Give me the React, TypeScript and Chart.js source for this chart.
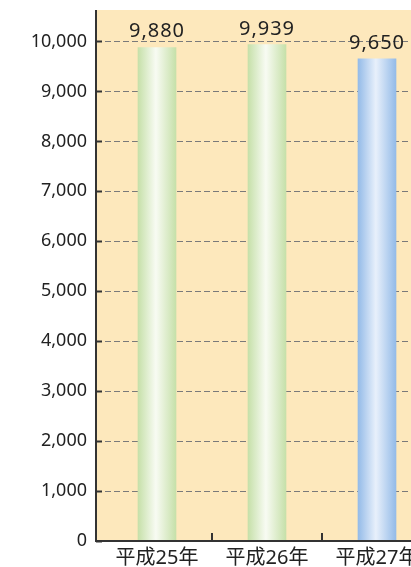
import React, { useEffect, useRef } from "react";
import { Chart, registerables } from "chart.js";

Chart.register(...registerables);

const categories = ["平成25年", "平成26年", "平成27年"];
const values = [9880, 9939, 9650];
const yTicks = [0, 1000, 2000, 3000, 4000, 5000, 6000, 7000, 8000, 9000, 10000];
const yMin = 0;
const yMax = 10630;

const FONT = '"Noto Sans", "Noto Sans CJK JP", sans-serif';
const barColors = [
  ["#c6e0a9", "#f8fbf3"],
  ["#c6e0a9", "#f8fbf3"],
  ["#94bbe8", "#e8f0fb"],
];

const decorPlugin = {
  id: "decor",
  beforeDraw(chart: any) {
    const { ctx, chartArea } = chart;
    ctx.save();
    ctx.fillStyle = "#fde8bc";
    ctx.fillRect(chartArea.left - 6, chartArea.top, chartArea.right - chartArea.left + 6, chartArea.bottom - chartArea.top);
    ctx.restore();
  },
  beforeDatasetsDraw(chart: any) {
    const { ctx, chartArea, scales } = chart;
    const y = scales.y;
    ctx.save();
    ctx.strokeStyle = "#7a7a7a";
    ctx.lineWidth = 1;
    ctx.setLineDash([6, 3]);
    yTicks.forEach((v) => {
      if (v === 0) return;
      const py = Math.round(y.getPixelForValue(v)) + 0.5;
      ctx.beginPath();
      ctx.moveTo(chartArea.left - 6, py);
      ctx.lineTo(chartArea.right, py);
      ctx.stroke();
    });
    ctx.restore();
  },
  afterDatasetsDraw(chart: any) {
    const { ctx, chartArea, scales } = chart;
    const x = scales.x;
    const y = scales.y;
    const ax = chartArea.left - 6;
    ctx.save();
    ctx.strokeStyle = "#333";
    ctx.lineWidth = 2;
    ctx.beginPath();
    ctx.moveTo(ax, chartArea.top);
    ctx.lineTo(ax, chartArea.bottom);
    ctx.lineTo(chartArea.right, chartArea.bottom);
    ctx.stroke();
    yTicks.forEach((v) => {
      const py = Math.round(y.getPixelForValue(v)) + 0.5;
      ctx.beginPath();
      ctx.moveTo(ax, py);
      ctx.lineTo(ax + 6, py);
      ctx.stroke();
    });
    for (let i = 1; i < categories.length; i++) {
      const px = Math.round((x.getPixelForValue(i - 1) + x.getPixelForValue(i)) / 2);
      ctx.beginPath();
      ctx.moveTo(px, chartArea.bottom);
      ctx.lineTo(px, chartArea.bottom - 8);
      ctx.stroke();
    }
    ctx.fillStyle = "#222";
    ctx.font = `20px ${FONT}`;
    ctx.textAlign = "center";
    ctx.textBaseline = "alphabetic";
    try {
      (ctx as any).letterSpacing = "1px";
    } catch (e) {}
    const meta = chart.getDatasetMeta(0);
    meta.data.forEach((bar: any, i: number) => {
      ctx.fillText(values[i].toLocaleString("en-US"), bar.x, bar.y - 10);
    });
    ctx.restore();
  },
};

export default function App() {
  const ref = useRef<HTMLCanvasElement | null>(null);
  useEffect(() => {
    if (!ref.current) return;
    const chart = new Chart(ref.current, {
      type: "bar",
      data: {
        labels: categories,
        datasets: [
          {
            data: values,
            barThickness: 38,
            borderWidth: 0,
            backgroundColor: (c: any) => {
              const ch = c.chart;
              const xs = ch.scales && ch.scales.x;
              const i = c.dataIndex ?? 0;
              const pal = barColors[i] || barColors[0];
              if (!xs || !ch.chartArea) return pal[0];
              const cx = xs.getPixelForValue(i);
              const g = ch.ctx.createLinearGradient(cx - 19, 0, cx + 19, 0);
              g.addColorStop(0, pal[0]);
              g.addColorStop(0.47, pal[1]);
              g.addColorStop(1, pal[0]);
              return g;
            },
          },
        ],
      },
      options: {
        responsive: false,
        animation: false,
        layout: { padding: { top: 10, right: 8, left: 0, bottom: 0 } },
        plugins: { legend: { display: false }, tooltip: { enabled: false } },
        scales: {
          x: {
            grid: { display: false, drawTicks: false },
            border: { display: false },
            ticks: { color: "#222", font: { size: 20, family: FONT }, padding: 5 },
          },
          y: {
            min: yMin,
            max: yMax,
            grid: { display: false, drawTicks: false },
            border: { display: false },
            ticks: {
              autoSkip: false,
              color: "#222",
              font: { size: 18, family: FONT },
              padding: 15,
              callback: (v: any) => Number(v).toLocaleString("en-US"),
            },
            afterBuildTicks: (s: any) => {
              s.ticks = yTicks.map((v) => ({ value: v }));
            },
            afterFit: (s: any) => {
              s.width = 102;
              s.paddingTop = 0;
              s.paddingBottom = 0;
            },
          },
        },
      },
      plugins: [decorPlugin],
    });
    return () => chart.destroy();
  }, []);
  return (
    <div
      style={{
        position: "fixed",
        left: 0,
        top: 0,
        width: 411,
        height: 567,
        overflow: "hidden",
        background: "#fff",
      }}
    >
      <canvas ref={ref} width={440} height={575} style={{ width: 440, height: 575, display: "block" }} />
    </div>
  );
}
